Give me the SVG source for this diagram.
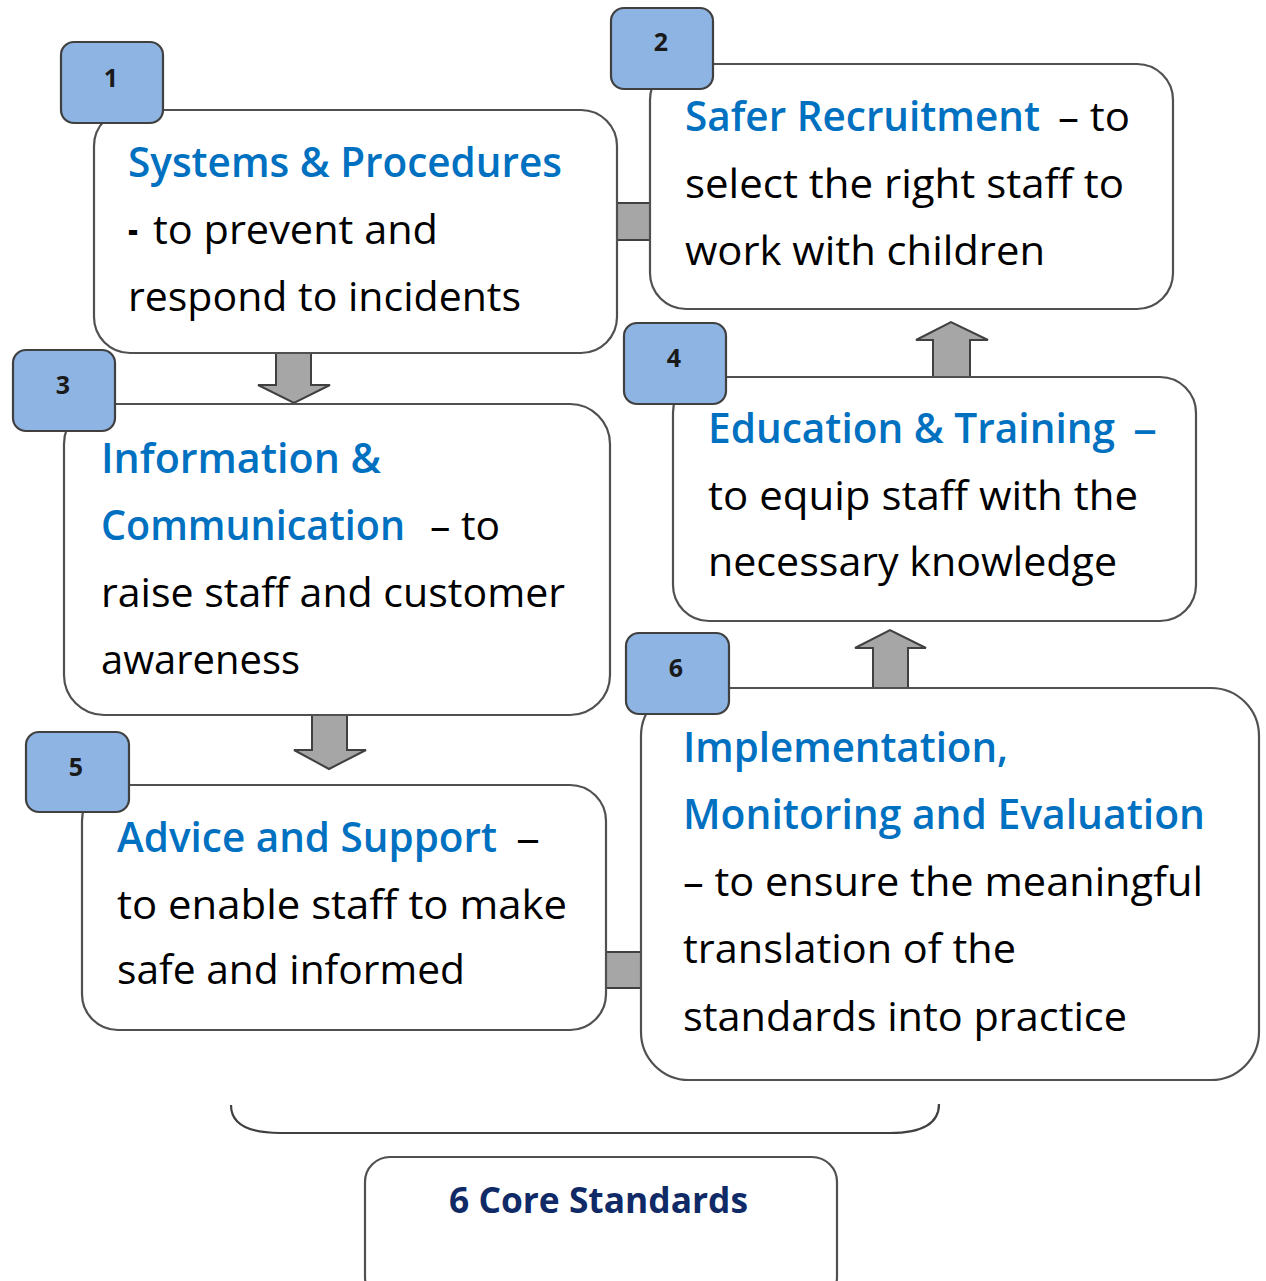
<svg xmlns="http://www.w3.org/2000/svg" width="1266" height="1281" viewBox="0 0 1266 1281">
<style>
.box{fill:#fff;stroke:#505050;stroke-width:2.2}
.badge{fill:#8DB4E2;stroke:#404040;stroke-width:2.2}
.num{font-family:"Open Sans","Liberation Sans",sans-serif;font-weight:700;font-size:25px;fill:#1a1a1a;text-anchor:middle}
.t{font-family:"Open Sans","Liberation Sans",sans-serif;font-size:41px;fill:#000}
.b{fill:#0070C0;font-weight:600}
.arr{fill:#A6A6A6;stroke:#404040;stroke-width:2}
.core{font-family:"Open Sans","Liberation Sans",sans-serif;font-weight:700;font-size:35px;fill:#0F2A66}
</style>
<rect width="1266" height="1281" fill="#fff"/>
<g id="connectors">
<rect class="arr" x="617" y="203" width="33" height="37"/>
<rect class="arr" x="606" y="952" width="35" height="36"/>
<path class="arr" d="M276,353 L311,353 L311,385 L330,385 L294,403 L258,385 L276,385 Z"/>
<path class="arr" d="M312,715 L347,715 L347,750 L366,750 L329,769 L294,750 L312,750 Z"/>
<path class="arr" d="M933,377 L970,377 L970,340 L988,340 L951,322 L916,340 L933,340 Z"/>
<path class="arr" d="M873,688 L908,688 L908,648 L926,648 L890,630 L855,648 L873,648 Z"/>
<path d="M231,1105 C231,1125 250,1133 280,1133 L890,1133 C920,1133 939,1125 939,1104" fill="none" stroke="#404040" stroke-width="2.2"/>
</g>
<g id="node1">
<rect class="box" x="94" y="110" width="523" height="243" rx="36"/>
<rect class="badge" x="61" y="42" width="102" height="81" rx="13"/>
<text class="num" x="111" y="87">1</text>
<text class="t b" x="128" y="177" textLength="434" lengthAdjust="spacingAndGlyphs">Systems &amp; Procedures</text>
<text class="t" x="128" y="244" font-weight="700" textLength="10" lengthAdjust="spacingAndGlyphs">-</text>
<text class="t" x="153" y="244" textLength="285" lengthAdjust="spacingAndGlyphs">to prevent and</text>
<text class="t" x="128" y="311" textLength="393" lengthAdjust="spacingAndGlyphs">respond to incidents</text>
</g>
<g id="node2">
<rect class="box" x="650" y="64" width="523" height="245" rx="36"/>
<rect class="badge" x="611" y="8" width="102" height="81" rx="13"/>
<text class="num" x="661" y="51">2</text>
<text class="t b" x="685" y="131" textLength="355" lengthAdjust="spacingAndGlyphs">Safer Recruitment</text>
<text class="t" x="1058" y="131" textLength="72" lengthAdjust="spacingAndGlyphs">– to</text>
<text class="t" x="685" y="198" textLength="439" lengthAdjust="spacingAndGlyphs">select the right staff to</text>
<text class="t" x="685" y="265" textLength="360" lengthAdjust="spacingAndGlyphs">work with children</text>
</g>
<g id="node3">
<rect class="box" x="64" y="404" width="546" height="311" rx="40"/>
<rect class="badge" x="13" y="350" width="102" height="81" rx="13"/>
<text class="num" x="63" y="394">3</text>
<text class="t b" x="101" y="473" textLength="280" lengthAdjust="spacingAndGlyphs">Information  &amp;</text>
<text class="t b" x="101" y="540" textLength="304" lengthAdjust="spacingAndGlyphs">Communication</text>
<text class="t" x="430" y="540" textLength="70" lengthAdjust="spacingAndGlyphs">– to</text>
<text class="t" x="101" y="607" textLength="464" lengthAdjust="spacingAndGlyphs">raise staff and customer</text>
<text class="t" x="101" y="674" textLength="199" lengthAdjust="spacingAndGlyphs">awareness</text>
</g>
<g id="node4">
<rect class="box" x="673" y="377" width="523" height="244" rx="36"/>
<rect class="badge" x="624" y="323" width="102" height="81" rx="13"/>
<text class="num" x="674" y="367">4</text>
<text class="t b" x="708" y="443" textLength="407" lengthAdjust="spacingAndGlyphs">Education  &amp; Training</text>
<text class="t b" x="1133" y="443" textLength="24" lengthAdjust="spacingAndGlyphs">–</text>
<text class="t" x="708" y="510" textLength="430" lengthAdjust="spacingAndGlyphs">to equip staff with the</text>
<text class="t" x="708" y="576" textLength="409" lengthAdjust="spacingAndGlyphs">necessary  knowledge</text>
</g>
<g id="node5">
<rect class="box" x="82" y="785" width="524" height="245" rx="36"/>
<rect class="badge" x="26" y="732" width="103" height="80" rx="13"/>
<text class="num" x="76" y="776">5</text>
<text class="t b" x="117" y="852" textLength="380" lengthAdjust="spacingAndGlyphs">Advice and Support</text>
<text class="t" x="516" y="852" textLength="24" lengthAdjust="spacingAndGlyphs">–</text>
<text class="t" x="117" y="919" textLength="450" lengthAdjust="spacingAndGlyphs">to enable staff to make</text>
<text class="t" x="117" y="984" textLength="348" lengthAdjust="spacingAndGlyphs">safe  and informed</text>
</g>
<g id="node6">
<rect class="box" x="641" y="688" width="618" height="392" rx="48"/>
<rect class="badge" x="626" y="633" width="103" height="81" rx="13"/>
<text class="num" x="676" y="677">6</text>
<text class="t b" x="683" y="762" textLength="325" lengthAdjust="spacingAndGlyphs">Implementation,</text>
<text class="t b" x="683" y="829" textLength="522" lengthAdjust="spacingAndGlyphs">Monitoring  and Evaluation</text>
<text class="t" x="683" y="896" textLength="520" lengthAdjust="spacingAndGlyphs">– to ensure the meaningful</text>
<text class="t" x="683" y="963" textLength="333" lengthAdjust="spacingAndGlyphs">translation of the</text>
<text class="t" x="683" y="1031" textLength="444" lengthAdjust="spacingAndGlyphs">standards into practice</text>
</g>
<g id="core">
<rect class="box" x="365" y="1157" width="472" height="145" rx="25"/>
<text class="core" x="449" y="1213" textLength="299" lengthAdjust="spacingAndGlyphs">6 Core Standards</text>
</g>
</svg>
